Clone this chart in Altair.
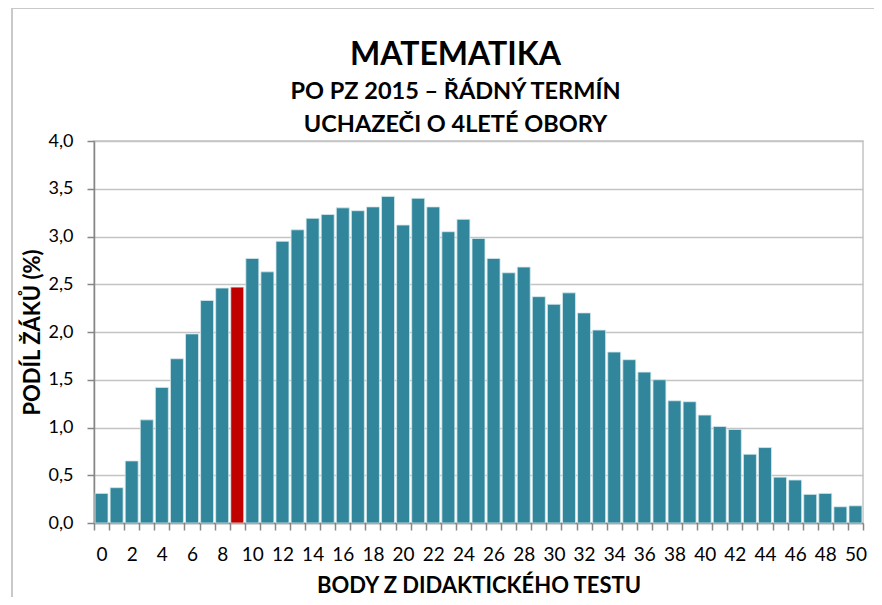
import altair as alt
import pandas as pd

scores = list(range(51))
shares = [0.31, 0.37, 0.65, 1.08, 1.42, 1.72, 1.98, 2.33, 2.46, 2.47,
          2.77, 2.63, 2.95, 3.07, 3.19, 3.23, 3.30, 3.27, 3.31, 3.42,
          3.12, 3.40, 3.31, 3.05, 3.18, 2.98, 2.77, 2.62, 2.68, 2.37,
          2.29, 2.41, 2.20, 2.02, 1.79, 1.71, 1.58, 1.50, 1.28, 1.27,
          1.13, 1.01, 0.98, 0.72, 0.79, 0.48, 0.45, 0.30, 0.31, 0.17, 0.18]
highlight_score = 9
y_tick_values = [0.0, 0.5, 1.0, 1.5, 2.0, 2.5, 3.0, 3.5, 4.0]
x_tick_values = [s - 0.5 for s in scores] + [scores[-1] + 0.5]

title_text = "MATEMATIKA"
subtitle_lines = ["PO PZ 2015 – ŘÁDNÝ TERMÍN", "UCHAZEČI O 4LETÉ OBORY"]
x_title = "BODY Z DIDAKTICKÉHO TESTU"
y_title = "PODÍL ŽÁKŮ (%)"

df = pd.DataFrame({"score": scores, "share": shares})
df["group"] = ["highlight" if s == highlight_score else "base" for s in scores]

W, H = 769, 382
band_px = W / len(scores)
FONT = "Lato"

bars = alt.Chart(df).transform_calculate(
    x0="datum.score - 0.43", x1="datum.score + 0.43"
).mark_bar(stroke="#d6e8ee", strokeWidth=0.8).encode(
    x=alt.X("x0:Q",
            scale=alt.Scale(domain=[-0.5, 50.5], nice=False, zero=False),
            axis=alt.Axis(values=x_tick_values,
                          labelExpr="(datum.value + 0.5) % 2 == 0 ? format(datum.value + 0.5, 'd') : ''",
                          labelOffset=band_px / 2, labelOverlap=False, labelFlush=False,
                          labelBound=False,
                          tickSize=7, tickColor="#868686", tickWidth=1.5,
                          domainColor="#868686", domainWidth=1.5,
                          labelFontSize=19, labelColor="black", labelPadding=15,
                          grid=False, title=x_title, titleFontSize=22,
                          titleFontWeight="bold", titleColor="black", titlePadding=11)),
    x2="x1:Q",
    y=alt.Y("share:Q",
            scale=alt.Scale(domain=[0, 4], nice=False),
            axis=alt.Axis(values=y_tick_values,
                          labelExpr="replace(format(datum.value, '.1f'), '.', ',')",
                          tickSize=7, tickColor="#868686", tickWidth=1.5,
                          domainColor="#868686", domainWidth=1.5,
                          labelFontSize=18, labelColor="black", labelPadding=14,
                          grid=True, gridColor="#c4c4c4", gridWidth=1.5,
                          title=y_title, titleFontSize=22, titleFontWeight="bold",
                          titleColor="black", titlePadding=4)),
    y2=alt.datum(0),
    color=alt.Color("group:N",
                    scale=alt.Scale(domain=["base", "highlight"], range=["#31869B", "#C00000"]),
                    legend=None),
)

frame_left = alt.Chart(df).mark_rule(color="#c8c8c8", strokeWidth=1.5).encode(
    x=alt.value(-82), y=alt.value(-133), y2=alt.value(500))
frame_top = alt.Chart(df).mark_rule(color="#c8c8c8", strokeWidth=1.5).encode(
    x=alt.value(-82), x2=alt.value(900), y=alt.value(-133))

chart = alt.layer(bars, frame_left, frame_top).properties(
    width=W, height=H,
    autosize=alt.AutoSizeParams(type="none"),
    padding={"left": 86, "top": 133, "right": 11, "bottom": 74},
    title=alt.Title(title_text, subtitle=subtitle_lines, fontSize=32, fontWeight="bold",
                    color="black", font=FONT, subtitleFont=FONT, subtitleFontSize=23.5,
                    subtitleFontWeight="bold", subtitleColor="black",
                    subtitleLineHeight=33, subtitlePadding=8,
                    anchor="middle", dx=-23, offset=-130),
).configure(font=FONT).configure_view(stroke="#c4c4c4", strokeWidth=1.5)

chart.save("out.html", embed_options={"renderer": "svg", "actions": False})
